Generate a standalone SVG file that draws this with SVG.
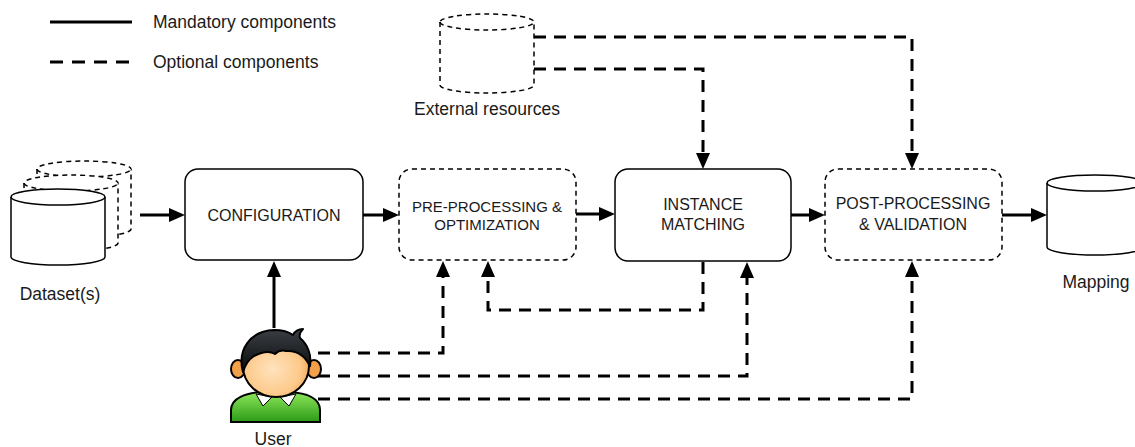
<svg xmlns="http://www.w3.org/2000/svg" width="1135" height="447" viewBox="0 0 1135 447">
<defs>
<style>
text{font-family:"Liberation Sans",Arial,sans-serif;fill:#1a1a1a}
.lbl{font-size:17.5px;text-anchor:middle}
.leg{font-size:17.5px}
.box{font-size:16px;text-anchor:middle}
.sm{font-size:15px;text-anchor:middle}
.solid{fill:#fff;stroke:#000;stroke-width:1.5}
.dash{fill:#fff;stroke:#000;stroke-width:1.5;stroke-dasharray:5 4}
.c{fill:none;stroke:#000;stroke-width:3}
.cd{fill:none;stroke:#000;stroke-width:3;stroke-dasharray:12 8}
</style>
<marker id="ah" markerUnits="userSpaceOnUse" markerWidth="16" markerHeight="14" viewBox="0 0 16 14" refX="1" refY="7" orient="auto">
<path d="M0,0 L16,7 L0,14 Z" fill="#000"/>
</marker>
<linearGradient id="shirt" x1="0" y1="0" x2="0" y2="1">
<stop offset="0" stop-color="#8ee85a"/>
<stop offset="1" stop-color="#2b9a18"/>
</linearGradient>
<radialGradient id="face" cx="0.45" cy="0.55" r="0.6">
<stop offset="0" stop-color="#ffe2bd"/>
<stop offset="0.7" stop-color="#fdc98a"/>
<stop offset="1" stop-color="#f3a552"/>
</radialGradient>
<linearGradient id="hair" x1="0" y1="0" x2="0" y2="1">
<stop offset="0" stop-color="#3a3f45"/>
<stop offset="1" stop-color="#0a0a0a"/>
</linearGradient>
</defs>

<g id="legend">
<line x1="50" y1="22" x2="132" y2="22" stroke="#000" stroke-width="3"/>
<text class="leg" x="153" y="28">Mandatory components</text>
<line x1="50" y1="62" x2="131" y2="62" stroke="#000" stroke-width="3" stroke-dasharray="13 9"/>
<text class="leg" x="153" y="68">Optional components</text>
</g>

<g id="datasets">
<path class="dash" d="M37,169 L37,229 A47,8 0 0 0 131,229 L131,169 A47,8 0 0 0 37,169 Z"/>
<path class="dash" d="M37,169 A47,8 0 0 0 131,169"/>
<path class="dash" d="M24,183 L24,243 A47,8 0 0 0 118,243 L118,183 A47,8 0 0 0 24,183 Z"/>
<path class="dash" d="M24,183 A47,8 0 0 0 118,183"/>
<path class="solid" d="M11,197 L11,257 A47,8 0 0 0 105,257 L105,197 A47,8 0 0 0 11,197 Z"/>
<path class="solid" d="M11,197 A47,8 0 0 0 105,197"/>
<text class="lbl" x="60" y="300">Dataset(s)</text>
</g>

<g id="external">
<path class="dash" d="M440,22 L440,85 A47,8 0 0 0 534,85 L534,22 A47,8 0 0 0 440,22 Z"/>
<path class="dash" d="M440,22 A47,8 0 0 0 534,22"/>
<text class="lbl" x="487" y="115">External resources</text>
</g>

<g id="mapping">
<path class="solid" d="M1047,183 L1047,247 A48,8 0 0 0 1143,247 L1143,183 A48,8 0 0 0 1047,183 Z"/>
<path class="solid" d="M1047,183 A48,8 0 0 0 1143,183"/>
<text class="lbl" x="1096" y="288">Mapping</text>
</g>

<g id="configuration">
<rect class="solid" x="185" y="169" width="178" height="91" rx="13"/>
<text class="box" x="274" y="221">CONFIGURATION</text>
</g>

<g id="preprocessing">
<rect class="dash" x="399" y="169" width="177" height="91" rx="13"/>
<text class="sm" x="487" y="212">PRE-PROCESSING &amp;</text>
<text class="sm" x="487" y="230">OPTIMIZATION</text>
</g>

<g id="matching">
<rect class="solid" x="615" y="169" width="176" height="92" rx="13"/>
<text class="box" x="703" y="210">INSTANCE</text>
<text class="box" x="703" y="230">MATCHING</text>
</g>

<g id="postprocessing">
<rect class="dash" x="825" y="169" width="177" height="91" rx="13"/>
<text class="box" x="913" y="209">POST-PROCESSING</text>
<text class="box" x="913" y="230">&amp; VALIDATION</text>
</g>

<g id="connectors">
<path class="c" d="M140,215 L170,215" marker-end="url(#ah)"/>
<path class="c" d="M363,215 L384,215" marker-end="url(#ah)"/>
<path class="c" d="M576,214 L600,214" marker-end="url(#ah)"/>
<path class="c" d="M791,215 L810,215" marker-end="url(#ah)"/>
<path class="c" d="M1002,215 L1032,215" marker-end="url(#ah)"/>
<path class="c" d="M274,328 L274,276" marker-end="url(#ah)"/>
<path class="cd" d="M534,37 L912,37 L912,154" marker-end="url(#ah)"/>
<path class="cd" d="M534,69 L703,69 L703,154" marker-end="url(#ah)"/>
<path class="cd" d="M703,262 L703,310 L488,310 L488,276" marker-end="url(#ah)"/>
<path class="cd" d="M318,353 L443,353 L443,276" marker-end="url(#ah)"/>
<path class="cd" d="M318,376 L747,376 L747,277" marker-end="url(#ah)"/>
<path class="cd" d="M318,399 L912,399 L912,276" marker-end="url(#ah)"/>
</g>

<g id="user">
<path d="M231,422 L231,410 C231,398 246,393 262,392 L290,392 C306,393 320,398 320,410 L320,422 Z" fill="url(#shirt)" stroke="#000" stroke-width="2"/>
<path d="M256,394 L272,397 L263,406 Z" fill="#fff" stroke="#000" stroke-width="1"/>
<path d="M296,394 L280,397 L289,406 Z" fill="#fff" stroke="#000" stroke-width="1"/>
<ellipse cx="238" cy="369" rx="7" ry="9" fill="#f2a04a" stroke="#000" stroke-width="2"/>
<ellipse cx="314" cy="369" rx="7" ry="9" fill="#f2a04a" stroke="#000" stroke-width="2"/>
<ellipse cx="276" cy="366" rx="33" ry="31" fill="url(#face)" stroke="#000" stroke-width="2"/>
<path d="M243,372 C237,350 250,331 274,330 C283,330 289,332 293,335 C295,331 299,329 303,329 C300,332 299,335 300,338 C307,344 312,354 310,366 C305,356 297,350 286,351 C282,350 278,351 275,354 C270,351 262,352 254,356 C248,360 245,365 243,372 Z" fill="url(#hair)" stroke="#000" stroke-width="2" stroke-linejoin="round"/>
<text class="lbl" x="273" y="445">User</text>
</g>
</svg>
